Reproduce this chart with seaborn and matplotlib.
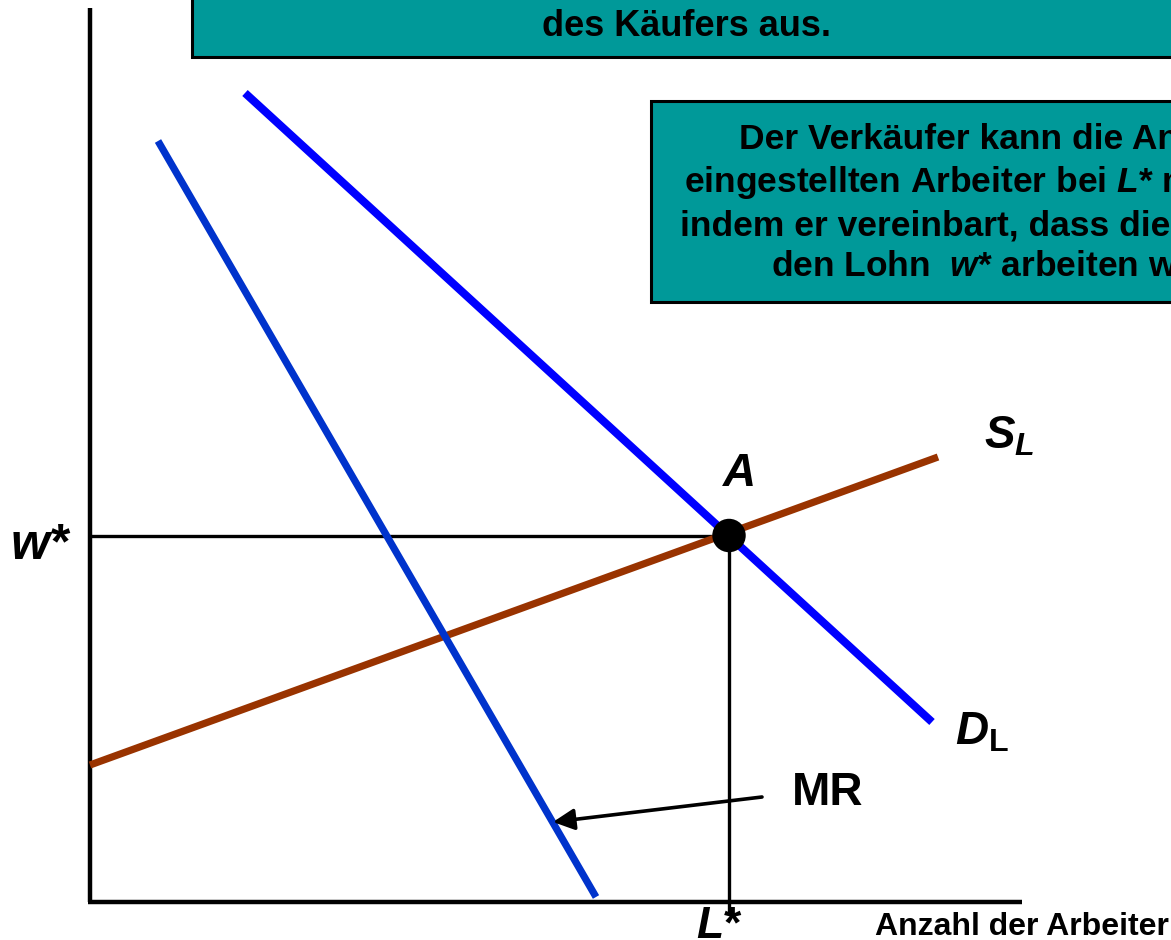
import matplotlib
matplotlib.use("Agg")
import matplotlib.pyplot as plt
import seaborn as sns
import pandas as pd
from matplotlib.patches import Rectangle

sns.set_theme(style="white")
plt.rcParams['font.family'] = ['Liberation Sans', 'DejaVu Sans']
plt.rcParams['text.color'] = 'black'
plt.rcParams['mathtext.fontset'] = 'custom'
plt.rcParams['mathtext.it'] = 'Liberation Sans:italic:bold'
plt.rcParams['mathtext.rm'] = 'Liberation Sans:bold'
plt.rcParams['mathtext.bf'] = 'Liberation Sans:bold'

# ---- data (quantity of workers L, wage w) ----
demand_L = [15.5, 84.2]
demand_w = [80.9, 18.0]
mr_L = [6.8, 50.6]
mr_w = [76.1, 0.5]
supply_L = [0.0, 84.8]
supply_w = [13.7, 44.5]
eq_L = [63.9]
eq_w = [36.65]
arrow_tail = (67.2, 10.5)
arrow_head = (46.3, 8.0)
x_axis_end = 93.2
y_axis_end = 89.4

top_text = "des Käufers aus."
box_lines = ["Der Verkäufer kann die Anzahl der",
             "eingestellten Arbeiter bei $L$* maximieren,",
             "indem er vereinbart, dass die Arbeiter für",
             "den Lohn  $w$* arbeiten werden."]
x_label = "Anzahl der Arbeiter"

fig = plt.figure(figsize=(11.71, 9.40), dpi=100)
ax = fig.add_axes([0, 0, 1, 1])
ax.set_xlim(-9.0, 108.1)
ax.set_ylim(-3.8, 90.2)
ax.axis('off')

# axes
ax.plot([0, 0], [0, y_axis_end], color='black', lw=3.2, solid_capstyle='butt')
ax.plot([-0.2, x_axis_end], [0, 0], color='black', lw=3.2, solid_capstyle='butt')

# guide lines
ax.plot([0, eq_L[0]], [eq_w[0], eq_w[0]], color='black', lw=2.4, solid_capstyle='butt')
ax.plot([eq_L[0], eq_L[0]], [eq_w[0], -1.3], color='black', lw=2.4, solid_capstyle='butt')

# curves
sns.lineplot(x=supply_L, y=supply_w, ax=ax, color='#993300', lw=5.2, solid_capstyle='butt')
sns.lineplot(x=mr_L, y=mr_w, ax=ax, color='#0033CC', lw=5.2, solid_capstyle='butt')
sns.lineplot(x=demand_L, y=demand_w, ax=ax, color='#0000FF', lw=5.8, solid_capstyle='butt')

sns.scatterplot(x=eq_L, y=eq_w, ax=ax, color='black', s=580, edgecolor='none', zorder=5)

# arrow
ax.annotate("", xy=arrow_head, xytext=arrow_tail,
            arrowprops=dict(arrowstyle='-|>', color='black', lw=2.6,
                            mutation_scale=32, shrinkA=0, shrinkB=0))

# boxes
ax.add_patch(Rectangle((10.2, 84.5), 99.0, 12.0, facecolor='#009999',
                       edgecolor='black', lw=2.2, zorder=6, clip_on=False))
ax.text(59.7, 87.5, top_text, ha='center', va='center', fontsize=26,
        fontweight='bold', zorder=7)
ax.add_patch(Rectangle((56.1, 60.0), 75.4, 20.1, facecolor='#009999',
                       edgecolor='black', lw=2.2, zorder=6, clip_on=False))
ax.text(93.6, 69.9, "\n".join(box_lines), ha='center', va='center',
        fontsize=25.5, fontweight='bold', linespacing=1.3, zorder=7)

# labels
ax.text(-5.0, 35.6, "w*", ha='center', va='center', fontsize=36,
        fontweight='bold', fontstyle='italic')
ax.text(64.8, 42.8, "$A$", ha='center', va='center', fontsize=33)
ax.text(89.4, 46.5, "$S_L$", ha='left', va='center', fontsize=33)
ax.text(86.5, 17.0, r"$D_\mathrm{L}$", ha='left', va='center', fontsize=33)
ax.text(70.2, 10.9, "MR", ha='left', va='center', fontsize=33, fontweight='bold')
ax.text(62.9, -2.4, "$L$*", ha='center', va='center', fontsize=32, fontweight='bold')
ax.text(78.5, -2.5, x_label, ha='left', va='center', fontsize=23, fontweight='bold')

fig.savefig("out.png", dpi=100)
